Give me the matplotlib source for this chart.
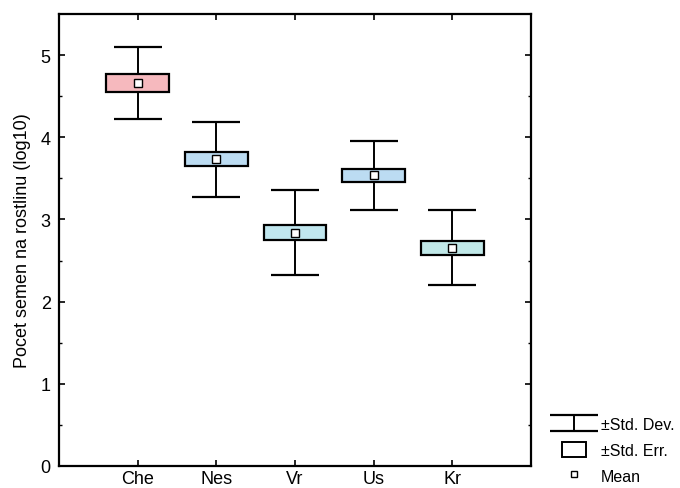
import matplotlib
matplotlib.use("Agg")
from matplotlib import pyplot as plt
from matplotlib.patches import Patch
from matplotlib.lines import Line2D
import numpy as np

plt.rcParams['font.family'] = ['Liberation Sans', 'DejaVu Sans']

groups = ['Che', 'Nes', 'Vr', 'Us', 'Kr']
means = [4.66, 3.73, 2.84, 3.535, 2.655]
std_err = [0.115, 0.085, 0.095, 0.075, 0.085]
std_dev = [0.435, 0.455, 0.52, 0.415, 0.455]
fills = ['#f6b9be', '#bcdcf2', '#c0e6ee', '#bcdcf2', '#c0e8e8']

x = np.arange(1, len(groups) + 1)
means = np.array(means)
std_err = np.array(std_err)
std_dev = np.array(std_dev)

fig = plt.figure(figsize=(6.8, 4.89), dpi=100)
ax = fig.add_axes([59/680, 22/489, (531-59)/680, (467-15)/489])

sd = ax.errorbar(x, means, yerr=std_dev, fmt='none', ecolor='black',
                 elinewidth=1.4, capsize=17, capthick=1.6, zorder=1)
ax.bar(x, 2*std_err, bottom=means-std_err, width=0.8, color=fills,
       edgecolor='black', linewidth=1.6, zorder=2)
ax.plot(x, means, 's', ms=6, mfc='white', mec='black', mew=1.0, zorder=3)

ax.set_xlim(0, 6)
ax.set_ylim(0, 5.5)
ax.set_xticks(x)
ax.set_xticklabels(groups)
ax.set_yticks(range(6))
ax.set_yticks(np.arange(0.5, 5.5, 1), minor=True)
ax.tick_params(direction='in', top=True, right=True, labelsize=13, width=1.2, length=4)
ax.tick_params(axis='x', pad=3)
ax.tick_params(axis='y', pad=6)
ax.tick_params(which='minor', direction='in', left=True, right=True, length=2.5, width=1)
for s in ax.spines.values():
    s.set_linewidth(1.6)
ax.set_ylabel('Pocet semen na rostlinu (log10)', fontsize=13, labelpad=7)

handles = [sd,
           Patch(facecolor='white', edgecolor='black', linewidth=1.4),
           Line2D([], [], ls='none', marker='s', ms=4.5, mfc='white', mec='black', mew=1.0)]
labels = ['±Std. Dev.', '±Std. Err.', 'Mean']
fig.legend(handles, labels, loc='upper left', bbox_to_anchor=(556/680, 1 - 411/489),
           frameon=False, fontsize=11.5, labelspacing=0.6, handlelength=1.5,
           handleheight=1.1, handletextpad=0.9, borderaxespad=0)

fig.savefig('out.png', dpi=100)
